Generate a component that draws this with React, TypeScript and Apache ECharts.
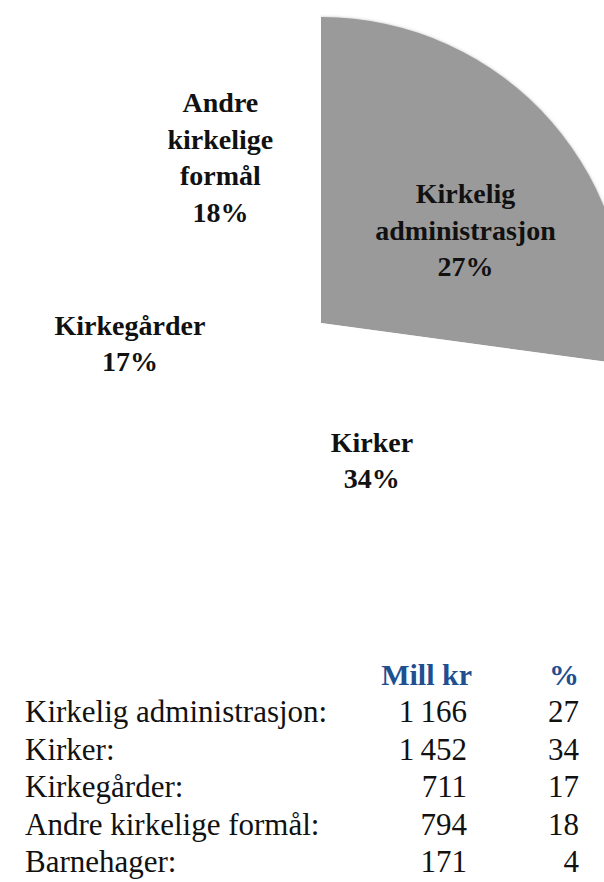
import React, { useEffect, useRef } from "react";
import * as echarts from "echarts";

const categories = [
  "Kirkelig administrasjon",
  "Kirker",
  "Barnehager",
  "Kirkegårder",
  "Andre kirkelige formål",
];
const pieLabels = [
  "Kirkelig\nadministrasjon",
  "Kirker",
  "",
  "Kirkegårder",
  "Andre\nkirkelige\nformål",
];
const millKr = [1166, 1452, 171, 711, 794];
const percents = [27, 34, 4, 17, 18];

const tableOrder = [
  "Kirkelig administrasjon",
  "Kirker",
  "Kirkegårder",
  "Andre kirkelige formål",
  "Barnehager",
];

const sliceColors = ["#9a9a9a", "#ffffff", "#ffffff", "#ffffff", "#ffffff"];
const labelOffsets: [number, number][] = [
  [27, 10],
  [-6, -8],
  [0, 0],
  [-36, 3],
  [-15, -35],
];

const fmt = (v: number) => {
  const s = String(v);
  return s.length > 3 ? s.slice(0, s.length - 3) + "\u2009" + s.slice(-3) : s;
};

const SERIF = "Liberation Serif, Times New Roman, serif";

export default function App() {
  const ref = useRef<HTMLDivElement>(null);
  useEffect(() => {
    if (!ref.current) return;
    const chart = echarts.init(ref.current, null, { renderer: "svg" });
    const rowY0 = 711.5;
    const rowStep = 37.5;
    const tableTexts: any[] = [];
    const txt = (text: string, x: number, y: number, align: string, bold: boolean, fill: string) => ({
      type: "text",
      x,
      y,
      style: {
        text,
        fontFamily: SERIF,
        fontSize: bold ? 30 : 31,
        fontWeight: bold ? "bold" : "normal",
        fill,
        align,
        verticalAlign: "middle",
      },
    });
    tableTexts.push(txt("Mill kr", 472, 674.5, "right", true, "#1d4f91"));
    tableTexts.push(txt("%", 579, 674.5, "right", true, "#1d4f91"));
    tableOrder.forEach((name, i) => {
      const idx = categories.indexOf(name);
      const y = rowY0 + i * rowStep;
      tableTexts.push(txt(name + ":", 25, y, "left", false, "#111"));
      tableTexts.push(txt(fmt(millKr[idx]), 467, y, "right", false, "#111"));
      tableTexts.push(txt(String(percents[idx]), 579, y, "right", false, "#111"));
    });

    chart.setOption({
      animation: false,
      backgroundColor: "#ffffff",
      series: [
        {
          type: "pie",
          center: [321, 323],
          radius: [0, 306],
          startAngle: 90,
          clockwise: true,
          silent: true,
          avoidLabelOverlap: false,
          labelLine: { show: false },
          data: categories.map((name, i) => ({
            name,
            value: millKr[i],
            itemStyle: {
              color: sliceColors[i],
              shadowBlur: i === 0 ? 3 : 0,
              shadowColor: "rgba(120,120,120,0.5)",
            },
            label: {
              show: pieLabels[i] !== "",
              position: "inside",
              offset: labelOffsets[i],
              formatter: () => `${pieLabels[i]}\n${percents[i]}%`,
              fontFamily: SERIF,
              fontWeight: "bold",
              fontSize: 28,
              lineHeight: 36.5,
              color: "#111",
              align: "center",
            },
          })),
        },
      ],
      graphic: tableTexts,
    });
    return () => chart.dispose();
  }, []);
  return (
    <div
      ref={ref}
      style={{ position: "fixed", left: 0, top: 0, width: 604, height: 882 }}
    />
  );
}
